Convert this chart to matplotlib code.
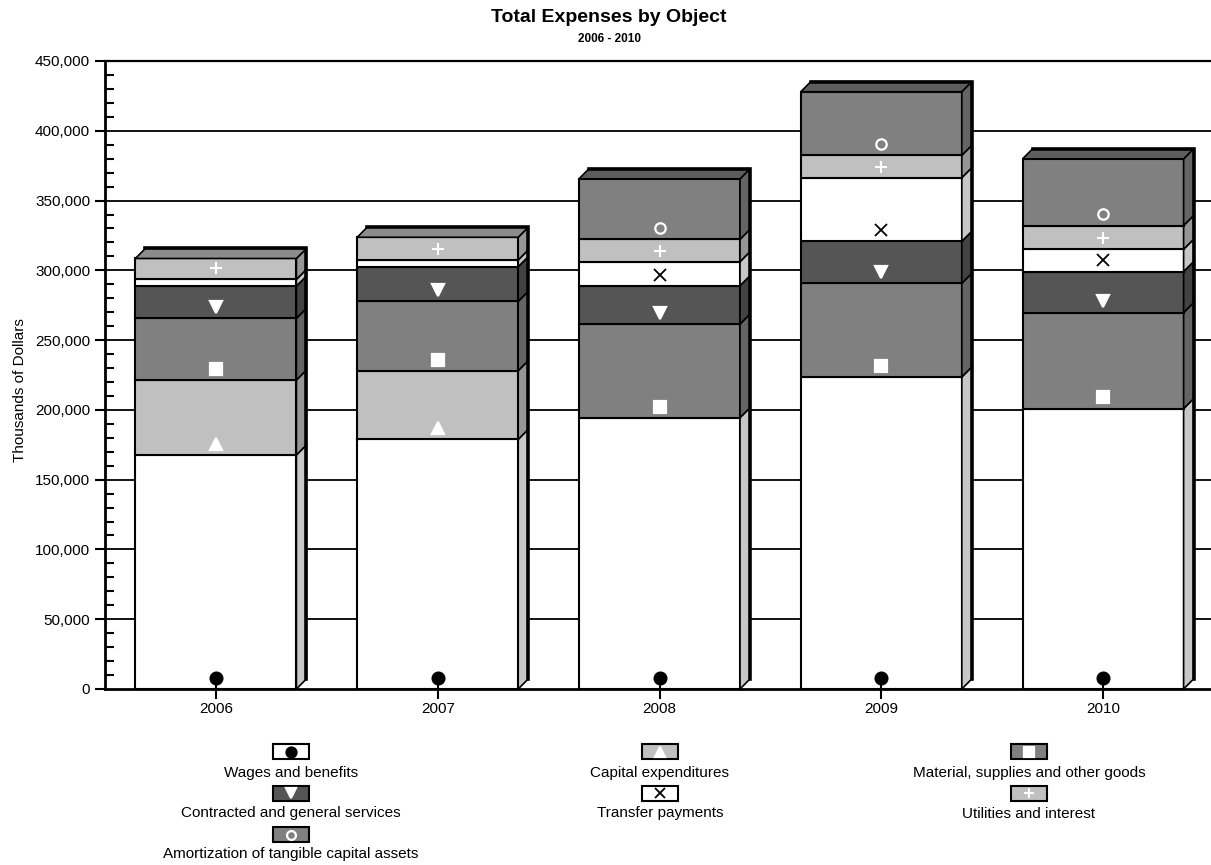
import matplotlib
matplotlib.use('Agg')
import matplotlib.pyplot as plt
from matplotlib.patches import Polygon, Rectangle
from matplotlib.ticker import MultipleLocator, FuncFormatter
import numpy as np

plt.rcParams['font.family'] = ['Liberation Sans', 'DejaVu Sans']

# data (thousands of dollars)
years = ['2006', '2007', '2008', '2009', '2010']
series_names = ['Wages and benefits', 'Capital expenditures',
                'Material, supplies and other goods',
                'Contracted and general services', 'Transfer payments',
                'Utilities and interest',
                'Amortization of tangible capital assets']
wages = [167700, 178900, 194400, 223600, 200900]
capital = [53700, 49200, 0, 0, 0]
material = [44200, 49700, 67100, 67100, 68800]
contracted = [23100, 24800, 27500, 30100, 29400]
transfer = [4800, 4800, 17200, 45600, 16000]
utilities = [15000, 16300, 16000, 16000, 17000]
amortization = [0, 0, 43400, 45600, 47800]

values = [wages, capital, material, contracted, transfer, utilities, amortization]

# styles
face_colors = ['#ffffff', '#c0c0c0', '#808080', '#555555', '#ffffff', '#c0c0c0', '#808080']
marker_style = ['o', '^', 's', 'v', 'x', '+', 'o']
marker_face = ['black', 'white', 'white', 'white', 'black', 'white', 'none']
marker_edge = ['black', 'white', 'white', 'white', 'black', 'white', 'white']
marker_size = [8.5, 9, 8, 9, 8.5, 9, 7.5]
marker_ew = [1.6, 1.6, 1.6, 1.6, 1.3, 1.5, 1.6]


def shade(color, f):
  rgb = np.array(matplotlib.colors.to_rgb(color)) * f
  return tuple(rgb)


fig = plt.figure(figsize=(12.11, 8.65), dpi=100)
ax = fig.add_axes([105/1211, 176/865, 1109/1211, 628/865])

x = np.arange(len(years))
width = 0.726
dx, dy = 0.045, 7200   # 3D depth offset

bottoms = np.zeros(len(years))
for j, vals in enumerate(values):
  vals = np.array(vals, float)
  keep = vals > 0
  ax.bar(x[keep], vals[keep], width, bottom=bottoms[keep], color=face_colors[j],
         edgecolor='black', linewidth=1.5, zorder=2)
  side = shade(face_colors[j], 0.78)
  for xi, b, h in zip(x, bottoms, vals):
    if h <= 0:
      continue
    x1 = xi + width/2
    ax.add_patch(Polygon([(x1, b), (x1+dx, b+dy), (x1+dx, b+h+dy), (x1, b+h)],
                         closed=True, fc=side, ec='black', lw=1.2, zorder=2))
  # markers sit a little above the bottom of each segment
  show = vals >= 10000
  ax.plot(x[show], bottoms[show] + 8000, linestyle='none', marker=marker_style[j],
          markersize=marker_size[j], markerfacecolor=marker_face[j],
          markeredgecolor=marker_edge[j], markeredgewidth=marker_ew[j], zorder=4)
  bottoms += vals

# top faces and back outline
for i, xi in enumerate(x):
  top = bottoms[i]
  last = max(j for j in range(len(values)) if values[j][i] > 0)
  x0, x1 = xi - width/2, xi + width/2
  ax.add_patch(Polygon([(x0, top), (x0+dx, top+dy), (x1+dx, top+dy), (x1, top)],
                       closed=True, fc=shade(face_colors[last], 0.73), ec='black',
                       lw=1.2, zorder=2))
  ax.plot([x1+dx, x1+dx, x0+dx], [dy, top+dy, top+dy], color='black', lw=2.6,
          zorder=3, solid_joinstyle='miter')

ax.set_xlim(-0.5, 4.5)
ax.set_ylim(0, 450000)
ax.set_xticks(x, years)
ax.yaxis.set_major_locator(MultipleLocator(50000))
ax.yaxis.set_minor_locator(MultipleLocator(10000))
ax.yaxis.set_major_formatter(FuncFormatter(lambda v, p: f'{v:,.0f}'))
ax.set_axisbelow(False)
for yv in ax.get_yticks():
  if 0 < yv < 450000:
    ax.axhline(yv, color='black', lw=1.3, zorder=1)

ax.tick_params(axis='y', which='major', direction='out', length=7.2, width=1.5,
               labelsize=11, pad=3.5)
ax.tick_params(axis='y', which='minor', direction='in', length=6.5, width=1.5)
ax.tick_params(axis='x', which='major', direction='inout', length=15, width=1.5,
               labelsize=11, pad=2)
ax.spines['right'].set_visible(False)
ax.spines['left'].set_linewidth(2)
ax.spines['bottom'].set_linewidth(2)
ax.spines['top'].set_linewidth(1.6)

ax.set_ylabel('Thousands of Dollars', fontsize=11)
ax.yaxis.set_label_coords(-0.070, 0.476)

fig.text(0.503, 1-18/865, 'Total Expenses by Object', ha='center', va='center',
         fontsize=14, fontweight='bold')
fig.text(0.503, 1-39/865, '2006 - 2010', ha='center', va='center',
         fontsize=8.5, fontweight='bold')

# legend drawn in pixel coordinates below the plot
leg = fig.add_axes([0, 0, 1, 1])
leg.set_xlim(0, 1211)
leg.set_ylim(865, 0)
leg.axis('off')
col_x = [291, 660, 1029]
swatch_y = [751.5, 793, 834.5]
text_y = [773, 813.5, 854]
for k, name in enumerate(series_names):
  r, c = divmod(k, 3)
  cx = col_x[c]
  leg.add_patch(Rectangle((cx-18, swatch_y[r]-7.5), 36, 15, fc=face_colors[k],
                          ec='black', lw=1.5))
  leg.plot([cx], [swatch_y[r]], linestyle='none', marker=marker_style[k],
           markersize=marker_size[k]*0.85, markerfacecolor=marker_face[k],
           markeredgecolor=marker_edge[k], markeredgewidth=marker_ew[k])
  leg.text(cx, text_y[r], name, ha='center', va='center', fontsize=11)

fig.savefig('out.png', dpi=100)
